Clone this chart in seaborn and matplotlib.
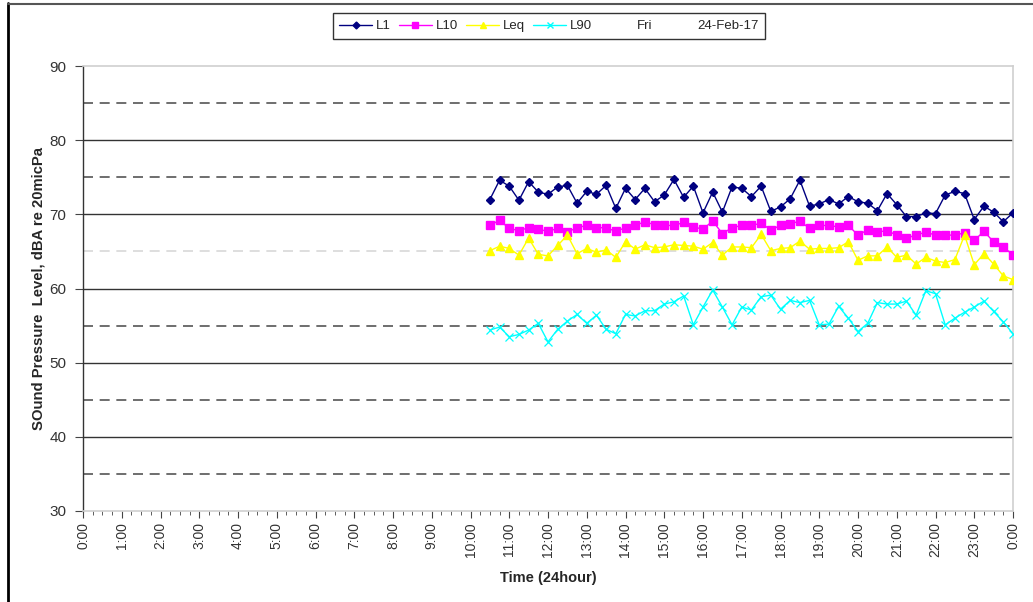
import numpy as np
import pandas as pd
import matplotlib
matplotlib.use("Agg")
import matplotlib.pyplot as plt
from matplotlib.lines import Line2D
import seaborn as sns

# Time of each reading in hours (15-minute intervals, 10:30 -> 24:00)
times_h = np.arange(10.5, 24.001, 0.25)

L1 = [72.0, 74.6, 73.8, 71.9, 74.4, 73.0, 72.7, 73.7, 73.9, 71.5, 73.1, 72.7, 73.9, 70.8,
      73.5, 72.0, 73.5, 71.7, 72.6, 74.7, 72.3, 73.8, 70.2, 73.0, 70.3, 73.7, 73.5,
      72.4, 73.8, 70.4, 71.0, 72.1, 74.6, 71.1, 71.4, 72.0, 71.4, 72.4, 71.7, 71.5,
      70.5, 72.8, 71.3, 69.7, 69.7, 70.2, 70.1, 72.6, 73.1, 72.8, 69.3, 71.1, 70.3,
      69.0, 70.2]
L10 = [68.5, 69.2, 68.1, 67.8, 68.2, 68.0, 67.7, 68.1, 67.6, 68.2, 68.5, 68.2, 68.2, 67.7,
       68.2, 68.5, 69.0, 68.6, 68.5, 68.5, 68.9, 68.3, 68.0, 69.1, 67.4, 68.2, 68.5,
       68.5, 68.8, 67.9, 68.5, 68.7, 69.1, 68.1, 68.5, 68.5, 68.3, 68.5, 67.2, 67.9,
       67.6, 67.8, 67.2, 66.8, 67.2, 67.6, 67.2, 67.2, 67.2, 67.5, 66.5, 67.7, 66.3,
       65.6, 64.5]
Leq = [65.1, 65.7, 65.4, 64.5, 66.8, 64.6, 64.4, 65.8, 67.2, 64.7, 65.4, 64.9, 65.2, 64.2,
       66.3, 65.3, 65.9, 65.5, 65.6, 65.9, 65.8, 65.7, 65.3, 66.2, 64.5, 65.6, 65.6,
       65.5, 67.3, 65.1, 65.4, 65.5, 66.4, 65.3, 65.4, 65.4, 65.5, 66.3, 63.8, 64.4,
       64.4, 65.6, 64.2, 64.5, 63.3, 64.2, 63.7, 63.5, 63.9, 67.2, 63.2, 64.7, 63.3,
       61.7, 61.2]
L90 = [54.4, 54.8, 53.5, 53.8, 54.4, 55.3, 52.8, 54.5, 55.6, 56.5, 55.3, 56.4, 54.5, 53.9,
       56.5, 56.3, 57.0, 57.0, 57.9, 58.2, 59.0, 55.1, 57.5, 59.8, 57.5, 55.1, 57.5,
       57.1, 58.9, 59.1, 57.2, 58.4, 58.1, 58.4, 55.1, 55.2, 57.6, 56.0, 54.2, 55.3,
       58.1, 57.9, 57.9, 58.3, 56.4, 59.7, 59.3, 55.1, 56.0, 56.8, 57.5, 58.3, 56.9,
       55.5, 53.9]

series_names = ["L1", "L10", "Leq", "L90"]
hour_labels = [f"{h}:00" for h in range(24)] + ["0:00"]
y_ticks = [30, 40, 50, 60, 70, 80, 90]

colors = {"L1": "#000080", "L10": "#FF00FF", "Leq": "#FFFF00", "L90": "#00FFFF"}
markers = {"L1": "D", "L10": "s", "Leq": "^", "L90": "x"}
msizes = {"L1": 4.5, "L10": 6, "Leq": 6, "L90": 6}

df = pd.DataFrame({"time": np.tile(times_h, 4),
                   "value": L1 + L10 + Leq + L90,
                   "series": np.repeat(series_names, len(times_h))})

sns.set_style("white")
plt.rcParams["font.family"] = ["Liberation Sans", "DejaVu Sans"]

fig = plt.figure(figsize=(10.33, 6.02), dpi=100)
ax = fig.add_axes([83/1033, 1-511/602, (1013-83)/1033, (511-66)/602])

# gridlines
for v in [40, 50, 60, 70, 80]:
    ax.axhline(v, color="#333333", lw=1.0, zorder=1)
for v in [35, 45, 55, 75, 85]:
    ax.axhline(v, color="#555555", lw=1.2, ls=(0, (6, 4)), zorder=1)
ax.axhline(65, color="#d8d8d8", lw=1.2, ls=(0, (6, 4)), zorder=1)

for name in series_names:
    sub = df[df.series == name]
    sns.lineplot(data=sub, x="time", y="value", ax=ax, color=colors[name],
                 marker=markers[name], markersize=msizes[name],
                 markeredgecolor=colors[name], markeredgewidth=1.0 if name != "L90" else 0.9,
                 lw=1.0, label=name, zorder=3, legend=False)

ax.set_xlim(0, 24)
ax.set_ylim(30, 90)
ax.set_xticks(range(25))
ax.set_xticklabels(hour_labels, rotation=90, fontsize=10, color="#333333")
ax.set_xticks(np.arange(0, 24.01, 0.25), minor=True)
ax.set_yticks(y_ticks)
ax.set_yticklabels([str(v) for v in y_ticks], fontsize=11, color="#333333")
ax.tick_params(axis="x", which="major", direction="out", length=5, color="#444444", pad=3)
ax.tick_params(axis="x", which="minor", direction="out", length=3, color="#444444")
ax.tick_params(axis="y", which="major", direction="out", length=6, color="#444444", pad=6)
ax.tick_params(bottom=True, left=True, which="both")

for s in ["top", "right", "bottom"]:
    ax.spines[s].set_color("#cfcfcf")
    ax.spines[s].set_linewidth(1.2)
ax.spines["left"].set_color("#333333")
ax.spines["left"].set_linewidth(1.0)

ax.set_xlabel("Time (24hour)", fontsize=10.5, fontweight="bold", labelpad=10)
ax.set_ylabel("SOund Pressure  Level, dBA re 20micPa", fontsize=10.7, fontweight="bold", labelpad=3)

# legend
handles = [Line2D([], [], color=colors[n], marker=markers[n], markersize=msizes[n] - 1, lw=1.0)
           for n in series_names]
handles += [Line2D([], [], lw=0), Line2D([], [], lw=0)]
labels = series_names + ["Fri", "24-Feb-17"]
leg = fig.legend(handles, labels, loc="center", bbox_to_anchor=(549/1033, 1-26/602),
                 ncol=6, fontsize=9.5, frameon=True, fancybox=False, edgecolor="black",
                 handlelength=2.5, columnspacing=0.6, handletextpad=0.3, borderpad=0.5)
leg.get_frame().set_linewidth(1.0)

# outer frame
fig.add_artist(Line2D([8/1033, 8/1033], [0, 1-3/602], color="black", lw=2.0))
fig.add_artist(Line2D([8/1033, 1], [1-4/602, 1-4/602], color="#555555", lw=1.5))

fig.savefig("out.png", dpi=100)
